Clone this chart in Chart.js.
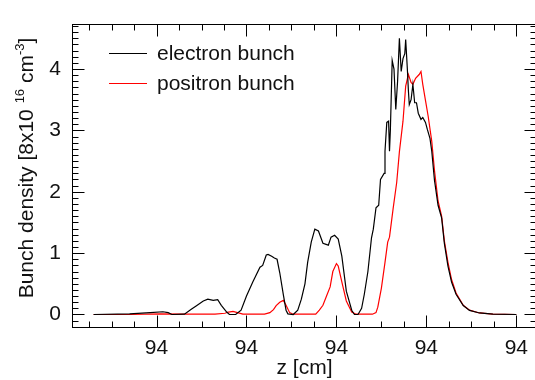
<!DOCTYPE html>
<html>
<head>
<meta charset="utf-8">
<script src="https://cdn.jsdelivr.net/npm/chart.js@4"></script>
<style>
  html, body { margin: 0; padding: 0; background: #fff; overflow: hidden; }
  #c { display: block; }
</style>
</head>
<body>
<canvas id="c" width="540" height="380"></canvas>
<script>
// z offsets from 94.00 cm, in micrometres
const electronZ = [-270, -230, -207, -193, -187, -183, -169, -161, -156, -148, -143, -137, -132, -128, -122, -119, -112,
  -106, -100, -93, -85, -82, -78, -76, -72, -69, -66, -63, -59, -56, -54, -48, -43, -39, -35, -32, -28, -24, -20, -15,
  -9, -6, -2, 2, 6, 11, 17, 20, 24, 28, 31, 35, 39, 41, 44, 47, 49, 53, 54, 56, 58, 59, 60, 62, 64, 66, 68, 70, 72,
  74, 76, 77, 79, 80, 81, 83, 85, 87, 89, 91, 94, 96, 99, 101, 104, 106, 109, 113, 117, 120, 124, 128, 133, 141, 148,
  159, 174, 200];
const electronDensity = [0, 0.01, 0.03, 0.045, 0.03, 0.0, 0.005, 0.09, 0.14, 0.22, 0.25, 0.23, 0.24, 0.15, 0.04, 0.0, 0.0,
  0.07, 0.3, 0.53, 0.77, 0.80, 0.97, 0.98, 0.95, 0.92, 0.9, 0.68, 0.32, 0.07, 0.01, 0, 0.07, 0.25, 0.5, 0.85, 1.18, 1.39, 1.36, 1.16,
  1.13, 1.26, 1.29, 1.23, 0.95, 0.38, 0.07, 0.0, 0.0, 0.1, 0.33, 0.7, 1.25, 1.39, 1.74, 1.78, 2.2, 2.3, 2.66, 3.13, 3.15, 2.66, 3.02, 4.14, 4.0, 3.34, 3.8, 4.5, 3.96,
  4.17, 4.25, 4.48, 3.96, 3.65, 3.42, 3.5, 3.75, 3.45, 3.45, 3.28, 3.18, 3.21, 3.13, 3.02, 2.87, 2.66, 2.19, 1.78, 1.57, 1.16, 0.79, 0.53, 0.33, 0.145, 0.067,
  0.025, 0.005, 0];

const positronZ = [-270, -230, -196, -169, -135, -124, -120, -115, -110, -104, -80, -74, -70, -67, -63, -59, -56, -52, -48,
  -23, -19, -15, -11, -7, -4, 0, 2, 6, 11, 17, 22, 40, 44, 46, 50, 54, 57, 59, 63, 67, 70, 74, 77, 80, 83, 85, 88, 92,
  94, 96, 99, 102, 106, 109, 113, 117, 120, 124, 128, 133, 141, 148, 159, 174, 200];
const positronDensity = [0, 0, 0.01, 0.005, 0.005, 0.02, 0.04, 0.05, 0.03, 0.005, 0.005, 0.03, 0.08, 0.145, 0.2, 0.23, 0.15, 0.03, 0.005,
  0.005, 0.07, 0.15, 0.3, 0.45, 0.7, 0.83, 0.79, 0.53, 0.22, 0.04, 0.005, 0.005, 0.03, 0.12, 0.43, 0.85, 1.18, 1.26, 1.72, 2.15, 2.65, 3.15, 3.72, 3.91, 3.78, 3.75, 3.85, 3.91,
  3.96, 3.75, 3.49, 3.23, 2.82, 2.35, 1.85, 1.6, 1.2, 0.85, 0.57, 0.35, 0.15, 0.07, 0.025, 0.005, 0];

const xMajor = [-200, -100, 0, 100, 200];
const yMajor = [0, 1, 2, 3, 4];
const seriesNames = ['electron bunch', 'positron bunch'];
const seriesColors = ['#000000', '#ff0000'];

const FONT = '"Liberation Sans", Arial, Helvetica, sans-serif';

function toPoints(xs, ys) {
  return xs.map((x, i) => ({ x: x, y: ys[i] }));
}

// frame, inward ticks, legend and y title
const decorations = {
  id: 'decorations',
  afterDraw(chart) {
    const ctx = chart.ctx;
    const a = chart.chartArea;
    const xs = chart.scales.x, ys = chart.scales.y;
    const L = Math.round(a.left) + 0.5, R = Math.round(a.right) - 0.5;
    const T = Math.round(a.top) + 0.5, B = Math.round(a.bottom) - 0.5;
    ctx.save();
    ctx.strokeStyle = '#000';
    ctx.lineWidth = 1;
    ctx.strokeRect(L, T, R - L, B - T);

    ctx.beginPath();
    for (let v = -275; v <= 225; v += 25) {
      const px = Math.round(xs.getPixelForValue(v)) + 0.5;
      if (px < L || px > R) continue;
      const len = xMajor.includes(v) ? 12 : 6;
      ctx.moveTo(px, B); ctx.lineTo(px, B - len);
      ctx.moveTo(px, T); ctx.lineTo(px, T + len);
    }
    for (let i = -2; i <= 47; i++) {
      const v = i / 10;
      const py = Math.round(ys.getPixelForValue(v)) + 0.5;
      if (py < T || py > B) continue;
      const len = (i % 10 === 0) ? 12 : 6;
      ctx.moveTo(L, py); ctx.lineTo(L + len, py);
      ctx.moveTo(R, py); ctx.lineTo(R - len, py);
    }
    ctx.stroke();

    // legend
    ctx.font = '21px ' + FONT;
    ctx.textBaseline = 'middle';
    ctx.textAlign = 'left';
    seriesNames.forEach((name, i) => {
      const y = 53.5 + i * 30;
      ctx.strokeStyle = seriesColors[i];
      ctx.beginPath();
      ctx.moveTo(109, y); ctx.lineTo(147, y);
      ctx.stroke();
      ctx.fillStyle = '#111';
      ctx.fillText(name, 157, y + 1);
    });

    // y axis title with superscripts
    const parts = [
      ['Bunch density [8x10 ', 21, 0],
      ['16', 13, -9],
      [' cm', 21, 0],
      ['-3', 13, -9],
      [']', 21, 0]
    ];
    let total = 0;
    parts.forEach(p => { ctx.font = p[1] + 'px ' + FONT; total += ctx.measureText(p[0]).width; });
    ctx.translate(33, 168);
    ctx.rotate(-Math.PI / 2);
    ctx.textBaseline = 'alphabetic';
    ctx.fillStyle = '#111';
    let x = -total / 2;
    parts.forEach(p => {
      ctx.font = p[1] + 'px ' + FONT;
      ctx.fillText(p[0], x, p[2]);
      x += ctx.measureText(p[0]).width;
    });
    ctx.restore();
  }
};

new Chart(document.getElementById('c'), {
  type: 'line',
  data: {
    datasets: [
      { label: seriesNames[0], data: toPoints(electronZ, electronDensity), borderColor: seriesColors[0], borderWidth: 1.2 },
      { label: seriesNames[1], data: toPoints(positronZ, positronDensity), borderColor: seriesColors[1], borderWidth: 1.2 }
    ]
  },
  options: {
    responsive: false,
    animation: false,
    events: [],
    layout: { padding: { left: 0, right: 3, top: 10, bottom: 0 } },
    elements: { point: { radius: 0 }, line: { tension: 0, fill: false } },
    plugins: { legend: { display: false }, tooltip: { enabled: false } },
    scales: {
      x: {
        type: 'linear',
        min: -294,
        max: 223,
        grid: { display: false, drawTicks: false },
        border: { display: false },
        afterBuildTicks: s => { s.ticks = xMajor.map(v => ({ value: v })); },
        afterFit: s => { s.height = 52; },
        ticks: {
          padding: 8,
          color: '#111',
          font: { family: FONT, size: 21 },
          maxRotation: 0,
          callback: v => (94 + v * 1e-4).toFixed(0)
        },
        title: {
          display: true,
          text: 'z [cm]',
          color: '#111',
          font: { family: FONT, size: 21, lineHeight: 1.1 },
          padding: { top: 0, bottom: 0 }
        }
      },
      y: {
        type: 'linear',
        min: -0.22,
        max: 4.74,
        grid: { display: false, drawTicks: false },
        border: { display: false },
        afterBuildTicks: s => { s.ticks = yMajor.map(v => ({ value: v })); },
        afterFit: s => { s.width = 72; },
        ticks: {
          padding: 11,
          color: '#111',
          font: { family: FONT, size: 21 },
          callback: v => String(v)
        }
      }
    }
  },
  plugins: [decorations]
});
</script>
</body>
</html>
